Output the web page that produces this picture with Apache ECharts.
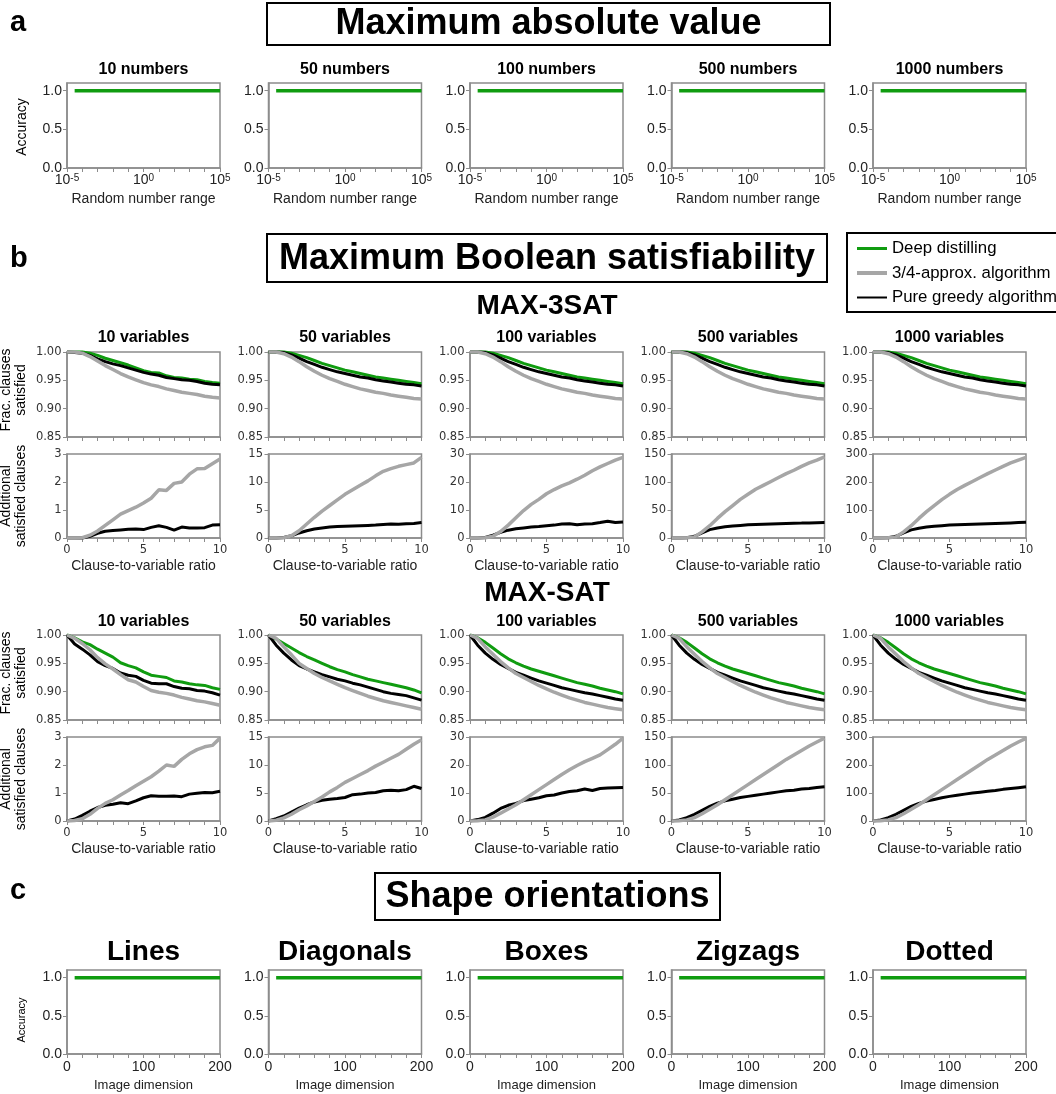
<!DOCTYPE html>
<html>
<head>
<meta charset="utf-8">
<title>Deep distilling benchmarks</title>
<script src="https://cdn.jsdelivr.net/npm/echarts@6/dist/echarts.min.js"></script>
<style>
  html, body { margin: 0; padding: 0; background: #fff; }
  #chart { width: 1056px; height: 1094px; }
</style>
</head>
<body>
<div id="chart"></div>
<script>
// ---- values ----
const numberTitles = ['10 numbers', '50 numbers', '100 numbers', '500 numbers', '1000 numbers'];
const variableTitles = ['10 variables', '50 variables', '100 variables', '500 variables', '1000 variables'];
const shapeTitles = ['Lines', 'Diagonals', 'Boxes', 'Zigzags', 'Dotted'];

// a: x is the exponent of the random number range (10^x)
const rangeExp = [-4.5, -4, -3, -2, -1, 0, 1, 2, 3, 4, 5];
const rangeAccuracy = [1, 1, 1, 1, 1, 1, 1, 1, 1, 1, 1];

// c
const imageDim = [10, 20, 40, 60, 80, 100, 120, 140, 160, 180, 200];
const shapeAccuracy = [1, 1, 1, 1, 1, 1, 1, 1, 1, 1, 1];

// b: clause-to-variable ratio
const ratio = [0, 0.5, 1, 1.5, 2, 2.5, 3, 3.5, 4, 4.5, 5, 5.5, 6, 6.5, 7, 7.5, 8, 8.5, 9, 9.5, 10];
const extraMax = [3, 15, 30, 150, 300];
const extraStep = [1, 5, 10, 50, 100];

// MAX-3SAT, fraction of clauses satisfied
const sat3Green10 = [1, 1, 1, 0.998, 0.994, 0.989, 0.985, 0.981, 0.977, 0.972, 0.967, 0.964, 0.963, 0.958, 0.955, 0.954, 0.952, 0.951, 0.948, 0.946, 0.945];
const sat3Gray10 = [1, 1, 0.998, 0.992, 0.984, 0.976, 0.969, 0.962, 0.956, 0.951, 0.946, 0.942, 0.939, 0.935, 0.932, 0.929, 0.927, 0.925, 0.922, 0.920, 0.919];
const sat3Black10 = [1, 0.999, 0.998, 0.994, 0.988, 0.983, 0.979, 0.976, 0.972, 0.968, 0.964, 0.961, 0.959, 0.955, 0.953, 0.951, 0.950, 0.948, 0.945, 0.943, 0.942];
const sat3GreenN = [1, 1, 1, 0.998, 0.994, 0.990, 0.985, 0.980, 0.976, 0.972, 0.968, 0.965, 0.962, 0.959, 0.956, 0.954, 0.952, 0.950, 0.948, 0.946, 0.944];
const sat3GrayN = [1, 1, 0.997, 0.991, 0.983, 0.974, 0.966, 0.959, 0.953, 0.948, 0.943, 0.939, 0.935, 0.932, 0.929, 0.927, 0.924, 0.922, 0.920, 0.918, 0.917];
const sat3BlackN = [1, 1, 0.999, 0.995, 0.989, 0.983, 0.978, 0.973, 0.969, 0.965, 0.962, 0.959, 0.956, 0.954, 0.951, 0.949, 0.947, 0.945, 0.943, 0.942, 0.940];

// MAX-3SAT, additional satisfied clauses
const sat3ExtraGray10 = [0, 0, 0.01, 0.1, 0.25, 0.45, 0.65, 0.85, 0.98, 1.1, 1.25, 1.42, 1.72, 1.70, 1.95, 2.0, 2.28, 2.47, 2.48, 2.65, 2.82];
const sat3ExtraBlack10 = [0, 0, 0, 0.06, 0.17, 0.24, 0.27, 0.29, 0.31, 0.32, 0.3, 0.38, 0.44, 0.38, 0.28, 0.39, 0.36, 0.36, 0.37, 0.46, 0.47];
const sat3ExtraGray50 = [0, 0, 0.05, 0.4, 1.3, 2.5, 3.7, 4.8, 5.8, 6.8, 7.8, 8.6, 9.4, 10.2, 11.1, 11.9, 12.4, 12.8, 13.1, 13.4, 14.4];
const sat3ExtraBlack50 = [0, 0, 0.1, 0.4, 0.9, 1.3, 1.6, 1.8, 1.95, 2.05, 2.1, 2.15, 2.2, 2.25, 2.3, 2.4, 2.5, 2.45, 2.55, 2.6, 2.75];
const sat3ExtraGray100 = [0, 0, 0.1, 0.6, 2.3, 4.6, 7.2, 9.8, 12.0, 13.8, 15.8, 17.3, 18.6, 19.7, 21.0, 22.4, 24.0, 25.4, 26.6, 27.8, 28.8];
const sat3ExtraBlack100 = [0, 0, 0.2, 1.0, 2.0, 2.8, 3.3, 3.6, 3.9, 4.1, 4.4, 4.6, 5.0, 5.1, 4.7, 5.0, 5.1, 5.5, 6.0, 5.5, 5.7];
const sat3ExtraGray500 = [0, 0, 0.5, 2, 11, 22, 35, 47, 58, 69, 78, 87, 94, 101, 108, 115, 121, 128, 134, 139, 145];
const sat3ExtraBlack500 = [0, 0, 0.5, 3, 9, 15, 18, 20, 21.5, 22.5, 23.5, 24, 24.5, 25, 25.5, 26, 26.3, 26.6, 27, 27.3, 27.5];
const sat3ExtraGray1000 = [0, 0, 1, 4, 22, 44, 70, 94, 116, 137, 156, 173, 188, 202, 216, 230, 243, 256, 268, 278, 288];
const sat3ExtraBlack1000 = [0, 0, 1, 6, 18, 29, 35, 39, 42, 44, 46, 47, 48, 49, 50, 51, 52, 53, 54, 55, 56];

// MAX-SAT, fraction of clauses satisfied
const satGreen10 = [1, 0.995, 0.988, 0.983, 0.975, 0.968, 0.961, 0.951, 0.946, 0.942, 0.935, 0.929, 0.927, 0.925, 0.919, 0.917, 0.914, 0.912, 0.911, 0.907, 0.904];
const satGray10 = [1, 0.994, 0.985, 0.974, 0.960, 0.949, 0.940, 0.930, 0.921, 0.917, 0.909, 0.902, 0.899, 0.897, 0.894, 0.890, 0.887, 0.884, 0.882, 0.879, 0.876];
const satBlack10 = [1, 0.984, 0.975, 0.965, 0.953, 0.946, 0.941, 0.933, 0.929, 0.927, 0.920, 0.915, 0.914, 0.914, 0.909, 0.906, 0.905, 0.902, 0.901, 0.898, 0.894];
const satGreen50 = [1, 0.993, 0.985, 0.977, 0.969, 0.962, 0.956, 0.950, 0.944, 0.939, 0.935, 0.930, 0.926, 0.922, 0.919, 0.916, 0.913, 0.910, 0.907, 0.903, 0.898];
const satGray50 = [1, 0.994, 0.979, 0.965, 0.950, 0.941, 0.932, 0.925, 0.919, 0.913, 0.907, 0.902, 0.897, 0.892, 0.888, 0.884, 0.881, 0.878, 0.875, 0.872, 0.869];
const satBlack50 = [1, 0.982, 0.968, 0.956, 0.946, 0.940, 0.935, 0.930, 0.926, 0.922, 0.919, 0.915, 0.912, 0.908, 0.904, 0.900, 0.897, 0.895, 0.893, 0.889, 0.885];
const satGreenN = [1, 0.995, 0.987, 0.977, 0.967, 0.958, 0.951, 0.945, 0.940, 0.936, 0.932, 0.928, 0.924, 0.920, 0.916, 0.913, 0.910, 0.906, 0.903, 0.900, 0.896];
const satGrayN = [1, 0.994, 0.979, 0.966, 0.953, 0.942, 0.932, 0.925, 0.918, 0.911, 0.905, 0.899, 0.894, 0.889, 0.885, 0.881, 0.878, 0.875, 0.872, 0.870, 0.868];
const satBlackN = [1, 0.982, 0.968, 0.957, 0.948, 0.941, 0.934, 0.929, 0.924, 0.919, 0.915, 0.911, 0.907, 0.904, 0.901, 0.898, 0.896, 0.893, 0.890, 0.887, 0.885];

// MAX-SAT, additional satisfied clauses
const satExtraGray10 = [0, 0.02, 0.08, 0.24, 0.45, 0.63, 0.76, 0.93, 1.09, 1.26, 1.42, 1.58, 1.78, 2.0, 1.95, 2.2, 2.4, 2.55, 2.65, 2.7, 2.96];
const satExtraBlack10 = [0, 0.07, 0.2, 0.35, 0.48, 0.56, 0.6, 0.65, 0.62, 0.72, 0.83, 0.9, 0.88, 0.88, 0.89, 0.87, 0.96, 0.99, 1.02, 1.01, 1.06];
const satExtraGray50 = [0, 0.15, 0.55, 1.2, 2.0, 2.7, 3.5, 4.3, 5.2, 6.0, 6.9, 7.6, 8.3, 9.0, 9.8, 10.5, 11.2, 11.9, 12.8, 13.7, 14.5];
const satExtraBlack50 = [0, 0.4, 0.9, 1.6, 2.3, 2.9, 3.4, 3.7, 3.9, 4.0, 4.2, 4.7, 4.8, 5.0, 5.1, 5.4, 5.5, 5.4, 5.6, 6.2, 5.8];
const satExtraGray100 = [0, 0.1, 0.4, 1.4, 2.8, 4.3, 5.8, 7.6, 9.4, 11.2, 13.0, 14.8, 16.6, 18.3, 19.8, 21.2, 22.4, 23.6, 25.5, 27.4, 29.6];
const satExtraBlack100 = [0, 0.5, 1.3, 2.8, 4.5, 5.6, 6.3, 7.3, 7.8, 8.3, 9.0, 9.3, 10.0, 10.5, 10.8, 11.4, 10.9, 11.6, 11.8, 11.9, 12.0];
const satExtraGray500 = [0, 0.5, 2, 6, 13, 21, 29, 38, 47, 56, 65, 74, 83, 92, 101, 110, 118, 126, 134, 141, 148];
const satExtraBlack500 = [0, 2, 6, 12, 19, 26, 32, 36, 39, 42, 44, 46, 48, 50, 52, 54, 55, 57, 58, 60, 61];
const satExtraGray1000 = [0, 1, 4, 12, 26, 42, 58, 76, 94, 112, 130, 148, 166, 184, 202, 220, 236, 252, 268, 282, 295];
const satExtraBlack1000 = [0, 4, 12, 24, 38, 52, 63, 71, 77, 83, 88, 92, 96, 100, 103, 106, 109, 113, 116, 119, 122];

const sat3Frac = [
  [sat3Green10, sat3Black10, sat3Gray10],
  [sat3GreenN, sat3BlackN, sat3GrayN],
  [sat3GreenN, sat3BlackN, sat3GrayN],
  [sat3GreenN, sat3BlackN, sat3GrayN],
  [sat3GreenN, sat3BlackN, sat3GrayN]
];
const sat3Extra = [
  [sat3ExtraBlack10, sat3ExtraGray10],
  [sat3ExtraBlack50, sat3ExtraGray50],
  [sat3ExtraBlack100, sat3ExtraGray100],
  [sat3ExtraBlack500, sat3ExtraGray500],
  [sat3ExtraBlack1000, sat3ExtraGray1000]
];
const satFrac = [
  [satGreen10, satBlack10, satGray10],
  [satGreen50, satBlack50, satGray50],
  [satGreenN, satBlackN, satGrayN],
  [satGreenN, satBlackN, satGrayN],
  [satGreenN, satBlackN, satGrayN]
];
const satExtra = [
  [satExtraBlack10, satExtraGray10],
  [satExtraBlack50, satExtraGray50],
  [satExtraBlack100, satExtraGray100],
  [satExtraBlack500, satExtraGray500],
  [satExtraBlack1000, satExtraGray1000]
];

// ---- layout / style ----
let chart = echarts.init(document.getElementById('chart'));
const colLeft = [67, 268.5, 470, 671.5, 873];
const plotW = 153;
const frameColor = '#8c8c8c';
const green = '#109c10', gray = '#a6a6a6', black = '#000000';
const sans = '"Liberation Sans", Arial, sans-serif';
const verdana = '"DejaVu Sans", Verdana, sans-serif';
const NAME_GREEN = 'Deep distilling', NAME_GRAY = '3/4-approx. algorithm', NAME_BLACK = 'Pure greedy algorithm';

let grids = [], xAxes = [], yAxes = [], series = [], graphics = [];

function addGrid(left, top, height, xa, ya) {
  let i = grids.length;
  grids.push({left: left, top: top, width: plotW, height: height, show: true,
    borderColor: frameColor, borderWidth: 1.5, backgroundColor: 'transparent'});
  xa.gridIndex = i;
  ya.gridIndex = i;
  xAxes.push(xa);
  yAxes.push(ya);
  return i;
}

function addLine(i, xs, ys, color, width, name) {
  series.push({
    type: 'line', name: name, xAxisIndex: i, yAxisIndex: i,
    data: xs.map((x, k) => [x, ys[k]]),
    symbol: 'none', clip: false, silent: true,
    lineStyle: {color: color, width: width}, itemStyle: {color: color}
  });
}

function axisLine() { return {show: true, onZero: false, lineStyle: {color: frameColor, width: 1.5}}; }
function tick(extra) { return Object.assign({show: true, length: 4, lineStyle: {color: frameColor, width: 1}}, extra || {}); }

function label(x, y, str, font, extra) {
  return Object.assign({
    type: 'text', x: x, y: y, silent: true, z: 10,
    style: {text: str, font: font, fill: '#000', align: 'center', verticalAlign: 'middle',
            textAlign: 'center', textVerticalAlign: 'middle', lineHeight: 15}
  }, extra || {});
}

function panelLetter(y, str) {
  graphics.push({type: 'text', x: 10, y: y, silent: true, z: 10,
    style: {text: str, font: 'bold 29px ' + sans, fill: '#000', align: 'left', verticalAlign: 'middle'}});
}

function boxTitle(x, y, w, h, str, cy) {
  graphics.push({type: 'rect', silent: true, z: 9, shape: {x: x, y: y, width: w, height: h},
    style: {fill: '#fff', stroke: '#000', lineWidth: 2}});
  graphics.push(label(x + w / 2, cy, str, 'bold 36px ' + sans));
}

// ---- a: maximum absolute value ----
panelLetter(23, 'a');
boxTitle(267, 3, 563, 42, 'Maximum absolute value', 24.5);
graphics.push(label(22, 127, 'Accuracy', '14px ' + sans, {rotation: Math.PI / 2}));

numberTitles.forEach(function (t, c) {
  let i = addGrid(colLeft[c], 83, 85, {
    type: 'value', min: -5, max: 5, interval: 5,
    axisLine: axisLine(), axisTick: tick(), splitLine: {show: false},
    minorTick: tick({splitNumber: 5}),
    axisLabel: {
      margin: 5,
      formatter: function (v) { return '{b|10}{s|' + v + '}'; },
      rich: {
        b: {fontFamily: sans, fontSize: 14, color: '#222', lineHeight: 14, verticalAlign: 'bottom'},
        s: {fontFamily: sans, fontSize: 10, color: '#222', lineHeight: 10, verticalAlign: 'top'}
      }
    },
    name: 'Random number range', nameLocation: 'middle', nameGap: 24,
    nameTextStyle: {fontFamily: sans, fontSize: 14, color: '#222'}
  }, {
    type: 'value', min: 0, max: 1.1,
    axisLine: axisLine(), splitLine: {show: false},
    axisTick: tick({customValues: [0, 0.5, 1]}),
    axisLabel: {customValues: [0, 0.5, 1], formatter: function (v) { return v.toFixed(1); },
      margin: 5, fontFamily: sans, fontSize: 14, color: '#222'}
  });
  addLine(i, rangeExp, rangeAccuracy, green, 3.5, 'a' + c);
  graphics.push(label(colLeft[c] + plotW / 2, 70, t, 'bold 16px ' + sans));
});

// ---- b: maximum Boolean satisfiability ----
panelLetter(259, 'b');
boxTitle(267, 234, 560, 48, 'Maximum Boolean satisfiability', 259);
// legend frame runs off the right edge, as in the figure
graphics.push({type: 'rect', silent: true, z: 0, shape: {x: 847, y: 233, width: 240, height: 79},
  style: {fill: '#fff', stroke: '#000', lineWidth: 2}});

function ratioAxis(showLabels) {
  return {
    type: 'value', min: 0, max: 10, interval: 5,
    axisLine: axisLine(), axisTick: tick(), splitLine: {show: false},
    minorTick: tick({splitNumber: 5}),
    axisLabel: {show: showLabels, margin: 6, fontFamily: verdana, fontSize: 11.5, color: '#333'},
    name: showLabels ? 'Clause-to-variable ratio' : '', nameLocation: 'middle', nameGap: 21,
    nameTextStyle: {fontFamily: sans, fontSize: 14, color: '#222'}
  };
}

function satBlock(heading, headingY, titleY, fracTop, extraTop, frac, extra) {
  graphics.push(label(547, headingY, heading, 'bold 28px ' + sans));
  graphics.push(label(14, fracTop + 38, 'Frac. clauses\nsatisfied', '14px ' + sans, {rotation: Math.PI / 2}));
  graphics.push(label(14, extraTop + 42, 'Additional\nsatisfied clauses', '14px ' + sans, {rotation: Math.PI / 2}));
  variableTitles.forEach(function (t, c) {
    graphics.push(label(colLeft[c] + plotW / 2, titleY, t, 'bold 16px ' + sans));
    let i = addGrid(colLeft[c], fracTop, 85, ratioAxis(false), {
      type: 'value', min: 0.85, max: 1, interval: 0.05,
      axisLine: axisLine(), axisTick: tick(), splitLine: {show: false},
      axisLabel: {formatter: function (v) { return v.toFixed(2); }, margin: 5.5,
        fontFamily: verdana, fontSize: 11.5, color: '#333'}
    });
    addLine(i, ratio, frac[c][0], green, 3, NAME_GREEN);
    addLine(i, ratio, frac[c][1], black, 3, NAME_BLACK);
    addLine(i, ratio, frac[c][2], gray, 3.5, NAME_GRAY);

    let j = addGrid(colLeft[c], extraTop, 84, ratioAxis(true), {
      type: 'value', min: 0, max: extraMax[c], interval: extraStep[c],
      axisLine: axisLine(), axisTick: tick(), splitLine: {show: false},
      axisLabel: {margin: 5.5, fontFamily: verdana, fontSize: 11.5, color: '#333'}
    });
    addLine(j, ratio, extra[c][0], black, 3, NAME_BLACK);
    addLine(j, ratio, extra[c][1], gray, 3.5, NAME_GRAY);
  });
}

satBlock('MAX-3SAT', 306.5, 338, 352, 454, sat3Frac, sat3Extra);
satBlock('MAX-SAT', 593, 622, 635, 737, satFrac, satExtra);

// ---- c: shape orientations ----
panelLetter(891, 'c');
boxTitle(375, 873, 345, 47, 'Shape orientations', 897);
graphics.push(label(22, 1020, 'Accuracy', '11px ' + sans, {rotation: Math.PI / 2}));

shapeTitles.forEach(function (t, c) {
  let i = addGrid(colLeft[c], 970, 84, {
    type: 'value', min: 0, max: 200, interval: 100,
    axisLine: axisLine(), axisTick: tick(), splitLine: {show: false},
    minorTick: tick({splitNumber: 5}),
    axisLabel: {margin: 6, fontFamily: sans, fontSize: 14, color: '#222'},
    name: 'Image dimension', nameLocation: 'middle', nameGap: 25,
    nameTextStyle: {fontFamily: sans, fontSize: 13, color: '#222'}
  }, {
    type: 'value', min: 0, max: 1.1,
    axisLine: axisLine(), splitLine: {show: false},
    axisTick: tick({customValues: [0, 0.5, 1]}),
    axisLabel: {customValues: [0, 0.5, 1], formatter: function (v) { return v.toFixed(1); },
      margin: 5, fontFamily: sans, fontSize: 14, color: '#222'}
  });
  addLine(i, imageDim, shapeAccuracy, green, 3.5, 'c' + c);
  graphics.push(label(colLeft[c] + plotW / 2, 952, t, 'bold 28px ' + sans));
});

let option = {
  animation: false,
  backgroundColor: '#fff',
  grid: grids,
  xAxis: xAxes,
  yAxis: yAxes,
  series: series,
  legend: {
    left: 847, top: 235, orient: 'vertical', z: 5,
    data: [
      {name: NAME_GREEN, lineStyle: {width: 3}},
      {name: NAME_GRAY, lineStyle: {width: 4}},
      {name: NAME_BLACK, lineStyle: {width: 2}}
    ],
    itemWidth: 30, itemHeight: 14, itemGap: 7.5,
    padding: [5, 0, 5, 8],
    borderWidth: 0,
    selectedMode: false,
    itemStyle: {opacity: 0},
    textStyle: {fontFamily: sans, fontSize: 16.8, color: '#000'}
  },
  graphic: {elements: graphics}
};
chart.setOption(option);
</script>
</body>
</html>
